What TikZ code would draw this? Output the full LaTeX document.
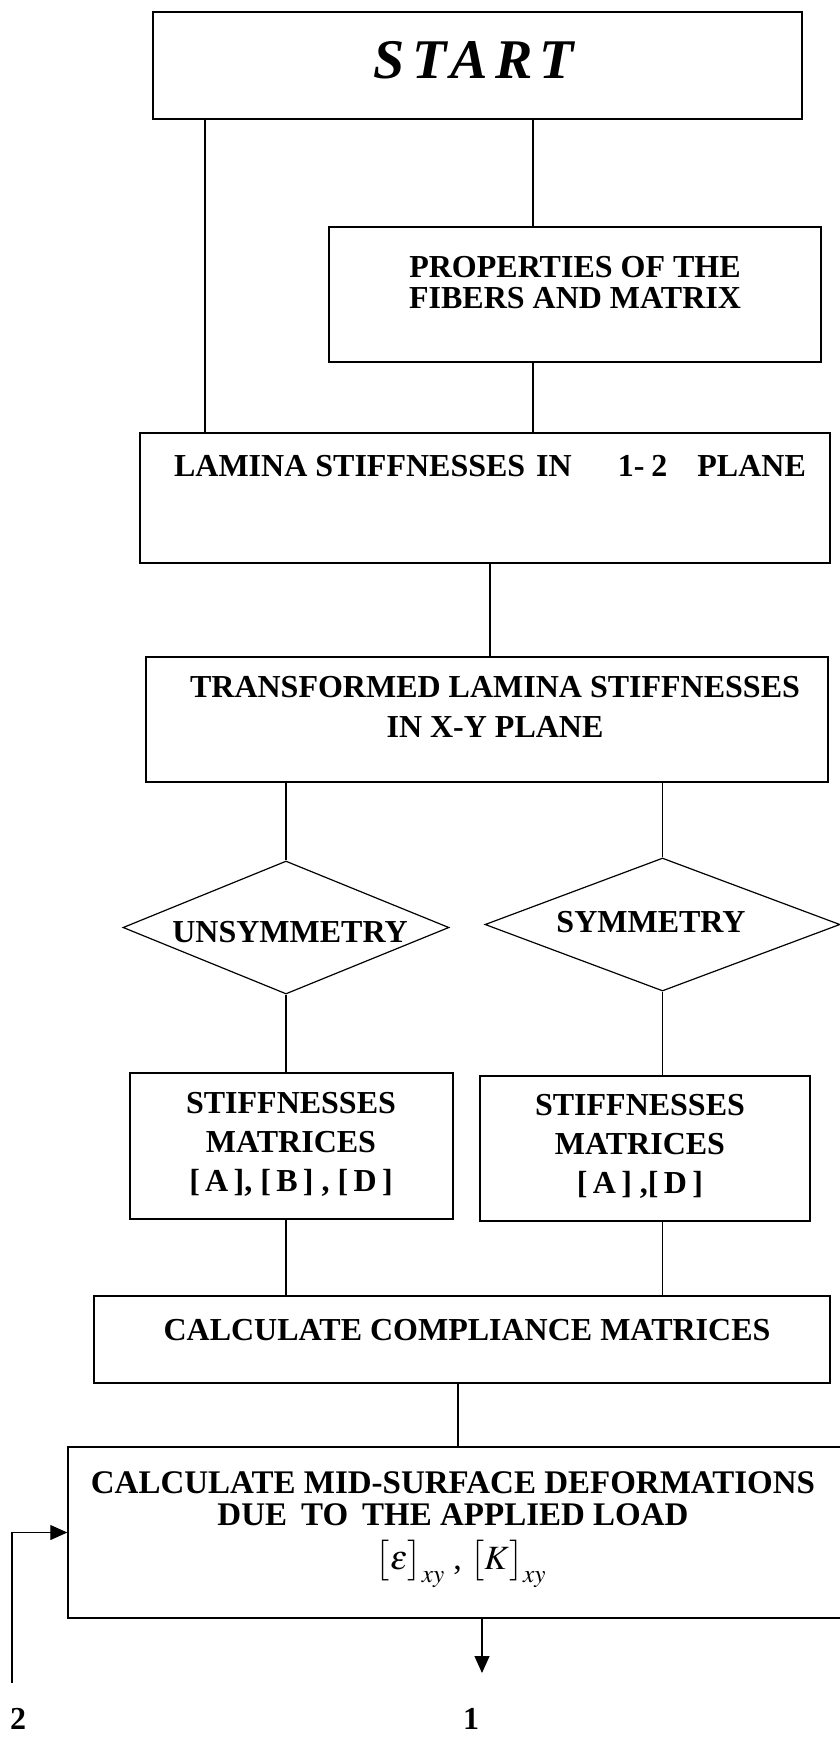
\documentclass[tikz,border=0pt]{standalone}
\usepackage{mathptmx}
\usepackage{fontspec}
\setmainfont{Liberation Serif}
\newfontfamily\startfont[LetterSpace=13]{Liberation Serif}
\usetikzlibrary{shapes.geometric,arrows.meta}

\begin{document}
\begin{tikzpicture}[
	x=1pt, y=-1pt,
	box/.style = {draw, line width=1.4pt, inner sep=0pt},
	decide/.style = {draw, diamond, line width=1.2pt, inner sep=0pt},
	lbl/.style = {inner sep=0pt, align=center, font=\fontsize{32}{38}\selectfont\bfseries},
	link/.style = {line width=1.1pt},
	flow/.style = {line width=1.1pt, -{Triangle[length=17pt, width=15pt]}}
	]
	\useasboundingbox (0,0) rectangle (840,1737);
	\clip (0,0) rectangle (840,1737);
	
	% Boxes
	\node[box, minimum width=649, minimum height=107] (start) at (477.5,65.5) {};
	\node[box, minimum width=492, minimum height=135] (props) at (575,294.5) {};
	\node[box, minimum width=690, minimum height=130] (lamina) at (485,498) {};
	\node[box, minimum width=682, minimum height=125] (transf) at (487,719.5) {};
	\node[decide, minimum width=326, minimum height=133] (unsym) at (286,927.5) {};
	\node[decide, minimum width=355, minimum height=133] (sym) at (662.5,924.5) {};
	\node[box, minimum width=323, minimum height=146] (stiffa) at (291.5,1146) {};
	\node[box, minimum width=330, minimum height=145] (stiffb) at (645,1148.5) {};
	\node[box, minimum width=736, minimum height=87] (compl) at (462,1339.5) {};
	\node[box, minimum width=782, minimum height=171] (midsurf) at (459,1532.5) {};
	
	% Texts
	\node[lbl, font=\fontsize{56}{60}\startfont\bfseries\itshape] (starttxt) at (474,60) {START};
	\node[lbl, font=\fontsize{32}{31}\selectfont\bfseries] (propstxt) at (575,282.5) {PROPERTIES OF THE\\FIBERS AND MATRIX};
	\node[lbl] (laminatxt) at (490,466) {LAMINA STIFFNESSES\hspace{11pt}IN\hspace{46pt}1-\hspace{7pt}2\hspace{30pt}PLANE};
	\node[lbl, font=\fontsize{32}{40}\selectfont\bfseries] (transftxt) at (495,707) {TRANSFORMED LAMINA STIFFNESSES\\IN\hspace{8pt}X-Y PLANE};
	\node[lbl] (unsymtxt) at (290,932) {UNSYMMETRY};
	\node[lbl] (symtxt) at (651,922) {SYMMETRY};
	\node[lbl, font=\fontsize{32}{39}\selectfont\bfseries] (stiffatxt) at (291,1144) {STIFFNESSES\\MATRICES\\{[}\,A\,], [\,B\,] , [\,D\,]};
	\node[lbl, font=\fontsize{32}{39}\selectfont\bfseries] (stiffbtxt) at (640,1146) {STIFFNESSES\\MATRICES\\{[}\,A\,] ,[\,D\,]};
	\node[lbl] (compltxt) at (467,1330) {CALCULATE COMPLIANCE MATRICES};
	\node[lbl, font=\fontsize{33}{32}\selectfont\bfseries] (midtxt) at (453,1499) {CALCULATE MID-SURFACE DEFORMATIONS\\DUE\hspace{14pt}TO\hspace{14pt}THE APPLIED LOAD};
	\node[lbl, font=\fontsize{34}{40}\selectfont] (midmath) at (461,1564) {$\bigl[\varepsilon\bigr]_{xy}$ , $\bigl[K\bigr]_{xy}$};
	\node[lbl] (one) at (471,1719) {1};
	\node[lbl] (two) at (18,1719) {2};
	
	% Columns of the connectors
	\coordinate (colL) at (205,0);
	\coordinate (colR) at (533,0);
	\coordinate (colM) at (490,0);
	\coordinate (colC) at (458,0);
	\coordinate (colO) at (482,0);
	\coordinate (out1) at (482,1673);
	\coordinate (back2) at (12,1683);
	
	% Connectors
	\draw[link] (start.south -| colL) -- (lamina.north -| colL);
	\draw[link] (start.south -| colR) -- (props.north -| colR);
	\draw[link] (props.south -| colR) -- (lamina.north -| colR);
	\draw[link] (lamina.south -| colM) -- (transf.north -| colM);
	\foreach \d/\s in {unsym/stiffa,sym/stiffb}{
		\draw[link] (transf.south -| \d.north) -- (\d.north);
		\draw[link] (\d.south) -- (\s.north -| \d.south);
		\draw[link] (\s.south -| \d.south) -- (compl.north -| \d.south);
	}
	\draw[link] (compl.south -| colC) -- (midsurf.north -| colC);
	\draw[flow] (midsurf.south -| colO) -- (out1);
	\draw[flow] (back2) |- (midsurf.west);
	
\end{tikzpicture}
\end{document}
